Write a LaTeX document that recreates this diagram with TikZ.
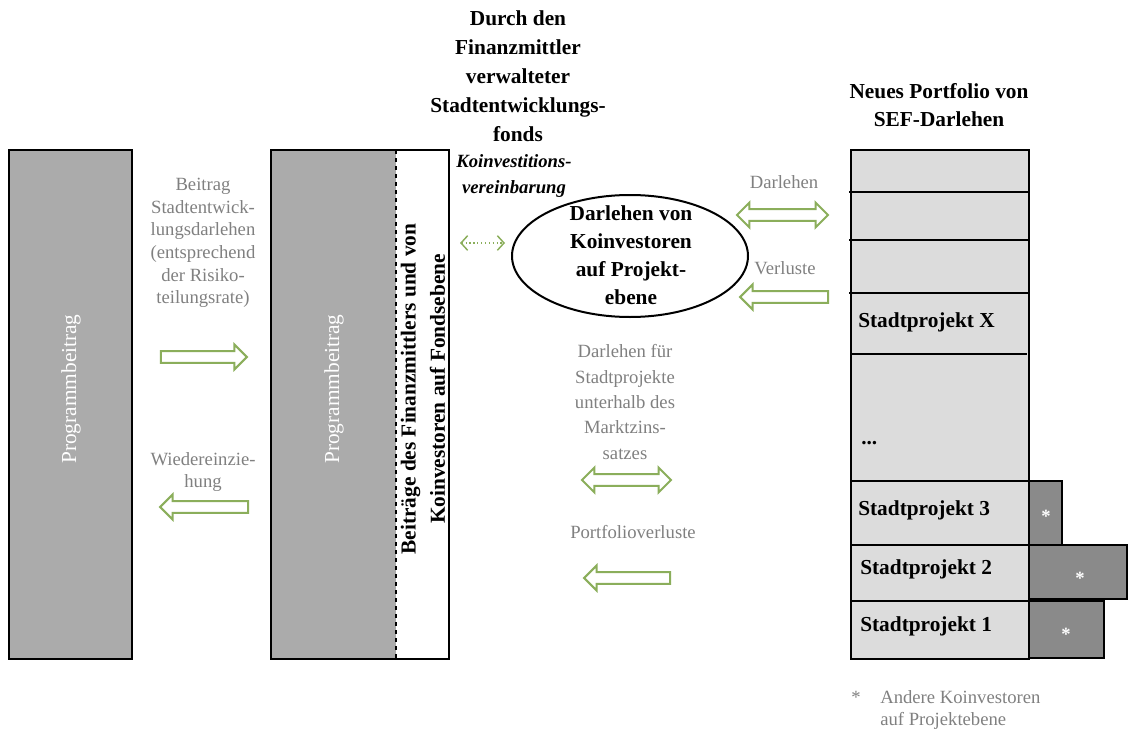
\documentclass[tikz,border=0pt]{standalone}
\usepackage{fontspec}
\setmainfont{Liberation Serif}
\usetikzlibrary{shapes.geometric,shapes.arrows,arrows.meta}
\definecolor{boxgray}{HTML}{ABABAB}
\definecolor{colgray}{HTML}{DCDCDC}
\definecolor{darkbox}{HTML}{8A8A8A}
\definecolor{txtgray}{HTML}{808080}
\definecolor{arrgreen}{HTML}{8BAE5B}
\begin{document}
\begin{tikzpicture}[x=0.75pt,y=-0.75pt,
  boldtxt/.style={font=\fontsize{16}{21}\selectfont\bfseries, align=center, inner sep=0pt},
  graylbl/.style={text=txtgray, font=\fontsize{14}{17}\selectfont, align=center, inner sep=0pt},
  whitelbl/.style={text=white, font=\fontsize{16}{20}\selectfont, inner sep=0pt},
  boxline/.style={line width=1.5pt},
  arrowbase/.style={draw=arrgreen, fill=white, line width=1.5pt, inner xsep=0pt, inner ysep=3.6pt},
  rarrow/.style={arrowbase, single arrow, single arrow head extend=5pt, minimum height=#1},
  larrow/.style={rarrow=#1, shape border rotate=180},
  darrow/.style={arrowbase, double arrow, double arrow head extend=5pt, minimum height=#1}
]
\useasboundingbox (0,0) rectangle (1128,735);

% left box
\draw[boxline, fill=boxgray] (9,150) rectangle (132,659);
\node[whitelbl, rotate=90] (lprog) at (71,389) {Programmbeitrag};

% middle box
\fill[boxgray] (271,150) rectangle (396,659);
\draw[line width=1pt, dashed] (396,150) -- (396,659);
\draw[boxline] (271,150) rectangle (449,659);
\node[whitelbl, rotate=90] (mprog) at (334,389) {Programmbeitrag};
\node[boldtxt, rotate=90, font=\fontsize{16}{22}\selectfont\bfseries] (mfund) at (423,389)
  {Beiträge des Finanzmittlers und von\\Koinvestoren auf Fondsebene};

% title over middle
\node[boldtxt, font=\fontsize{16}{21.75}\selectfont\bfseries] (ftitle) at (518,76)
  {Durch den\\Finanzmittler\\verwalteter\\Stadtentwicklungs-\\fonds};

% ellipse
\node[ellipse, draw, line width=1.5pt, minimum width=177pt, minimum height=91.5pt, fill=white] (ell) at (630,256) {};
\node[boldtxt, font=\fontsize{16}{21}\selectfont\bfseries] (elltxt) at (631,255)
  {Darlehen von\\Koinvestoren\\auf Projekt-\\ebene};

\node[boldtxt, font=\fontsize{14}{20}\selectfont\bfseries\itshape] (koinv) at (514,176)
  {Koinvestitions-\\vereinbarung};

% dotted arrow
\coordinate (dl) at (460,243);
\coordinate (dr) at (505,243);
\draw[arrgreen, line width=0.9pt, dotted, {Straight Barb[length=5pt,width=11pt,line width=1.1pt]}-{Straight Barb[length=5pt,width=11pt,line width=1.1pt]}] (dl) -- (dr);

% left labels and arrows
\node[graylbl] (beitrag) at (203,243)
  {Beitrag\\Stadtentwick-\\lungsdarlehen\\(entsprechend\\der Risiko-\\teilungsrate)};
\node[rarrow=64.5pt] (a1) at (201,357) {};
\node[graylbl] (wieder) at (203,472)
  {Wiedereinzie-\\hung};
\node[larrow=66pt] (a2) at (207,507) {};

% middle-right labels and arrows
\node[graylbl, font=\fontsize{14}{19}\selectfont] (darlfuer) at (625,402)
  {Darlehen für\\Stadtprojekte\\unterhalb des\\Marktzins-\\satzes};
\node[darrow=66.75pt] (a3) at (626.5,480) {};
\node[graylbl] (pverl) at (633,532) {Portfolioverluste};
\node[larrow=64.5pt] (a4) at (630,578) {};

\node[graylbl] (darl) at (784,182) {Darlehen};
\node[darrow=68.25pt] (a5) at (782.5,215) {};
\node[graylbl] (verl) at (785,268) {Verluste};
\node[larrow=66pt] (a6) at (787,297) {};

% portfolio title
\node[boldtxt, font=\fontsize{16}{21}\selectfont\bfseries] (ptitle) at (939,105)
  {Neues Portfolio von\\SEF-Darlehen};

% dark co-investor boxes
\draw[line width=1.2pt, fill=darkbox] (1029,481) rectangle (1062,545);
\draw[line width=1.2pt, fill=darkbox] (1029,545) rectangle (1127,599);
\draw[line width=1.2pt, fill=darkbox] (1029,601) rectangle (1104,658);

% portfolio column
\draw[boxline, fill=colgray] (851,150) rectangle (1029,659);
\draw[boxline] (849,192) -- (1029,192);
\draw[boxline] (849,240) -- (1029,240);
\draw[boxline] (849,293) -- (1029,293);
\draw[boxline] (851,354) -- (1027,354);
\draw[boxline] (851,481) -- (1029,481);
\draw[boxline] (851,545) -- (1029,545);
\draw[boxline] (851,601) -- (1029,601);

\node[boldtxt, anchor=west] (spx) at (858,322) {Stadtprojekt X};
\node[boldtxt, anchor=west] (dots) at (861,443) {...};
\node[boldtxt, anchor=west] (sp3) at (858,510) {Stadtprojekt 3};
\node[boldtxt, anchor=west] (sp2) at (860,569) {Stadtprojekt 2};
\node[boldtxt, anchor=west] (sp1) at (860,626) {Stadtprojekt 1};

\node[text=white, font=\fontsize{14}{16}\selectfont\bfseries, inner sep=0pt] (st3) at (1046,516) {*};
\node[text=white, font=\fontsize{14}{16}\selectfont\bfseries, inner sep=0pt] (st2) at (1080,578) {*};
\node[text=white, font=\fontsize{14}{16}\selectfont\bfseries, inner sep=0pt] (st1) at (1066,634) {*};

% footnote
\node[graylbl] (fstar) at (856,697) {*};
\node[graylbl, align=left, anchor=west] (fnote) at (880,710)
  {Andere Koinvestoren\\auf Projektebene};
\end{tikzpicture}
\end{document}
